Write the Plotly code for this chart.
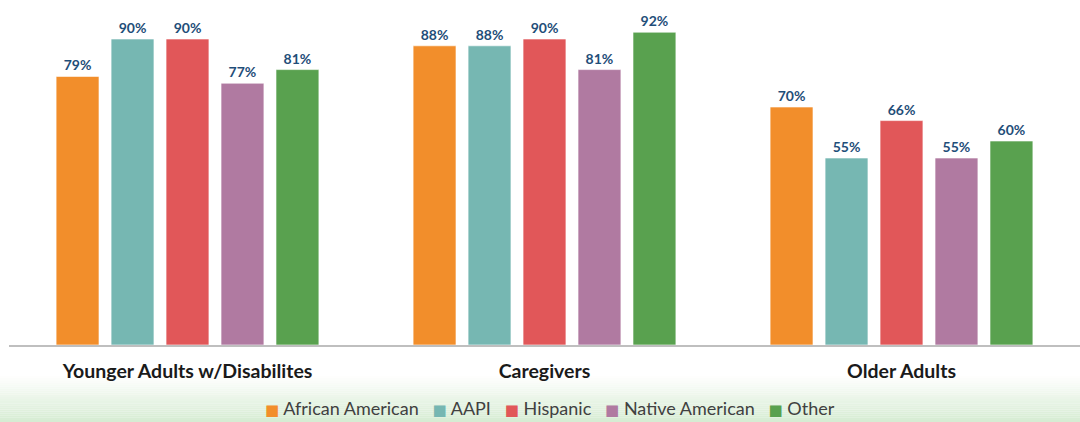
import plotly.graph_objects as go

categories = ["Younger Adults w/Disabilites", "Caregivers", "Older Adults"]
series_names = ["African American", "AAPI", "Hispanic", "Native American", "Other"]
african_american = [79, 88, 70]
aapi = [90, 88, 55]
hispanic = [90, 90, 66]
native_american = [77, 81, 55]
other = [81, 92, 60]
series_values = [african_american, aapi, hispanic, native_american, other]
colors = ["#F28E2B", "#76B7B2", "#E15759", "#B07AA1", "#59A14F"]

fig = go.Figure()
for name, vals, col in zip(series_names, series_values, colors):
    fig.add_trace(go.Bar(
        x=categories, y=vals, name=name,
        marker=dict(color=col, line=dict(color="rgba(255,255,255,0.6)", width=1)),
        texttemplate="%{y}%", textposition="outside", cliponaxis=False,
        textfont=dict(family="Lato", size=14, color="#1F4E79", weight="bold"),
    ))

# background gradient band at the bottom
shapes = []
n = 22
top_px, bot_px = 376, 422
plot_bottom, plot_h = 345, 340
for i in range(n):
    y0p = top_px + (bot_px - top_px) * i / n
    y1p = top_px + (bot_px - top_px) * (i + 1) / n
    t = (i + 0.5) / n
    r = int(255 + (214 - 255) * t)
    g = int(255 + (236 - 255) * t)
    b = int(255 + (210 - 255) * t)
    shapes.append(dict(type="rect", xref="paper", yref="paper", layer="below",
                       x0=-0.05, x1=1.05,
                       y0=(plot_bottom - y1p) / plot_h, y1=(plot_bottom - y0p) / plot_h,
                       fillcolor=f"rgb({r},{g},{b})", line=dict(width=0)))

# custom legend as one rich-text annotation
gap = "&#160;" * 3
legend_text = gap.join(
    f"<span style='color:{c};font-size:15px;font-family:DejaVu Sans'>■</span>&#160;{n_}"
    for n_, c in zip(series_names, colors)
)

fig.update_layout(
    width=1080, height=422,
    margin=dict(l=9, r=0, t=5, b=77),
    paper_bgcolor="white", plot_bgcolor="white",
    barmode="group", bargap=0.23, bargroupgap=0.22,
    showlegend=False,
    xaxis=dict(showline=True, linecolor="#BFBFBF", linewidth=1.5, ticks="",
               tickfont=dict(family="Lato", size=19.5, color="#1A1A1A", weight="bold"),
               ticklabelstandoff=8),
    yaxis=dict(range=[0, 100], visible=False, showgrid=False),
    shapes=shapes,
    annotations=[dict(text=legend_text, xref="paper", yref="paper",
                      x=0.505, y=(plot_bottom - 408) / plot_h,
                      xanchor="center", yanchor="middle", showarrow=False,
                      font=dict(family="Lato", size=18, color="#404040"))],
)
fig.write_html("out.html", config={"displayModeBar": False},
               post_script="document.body.style.margin='0';")
